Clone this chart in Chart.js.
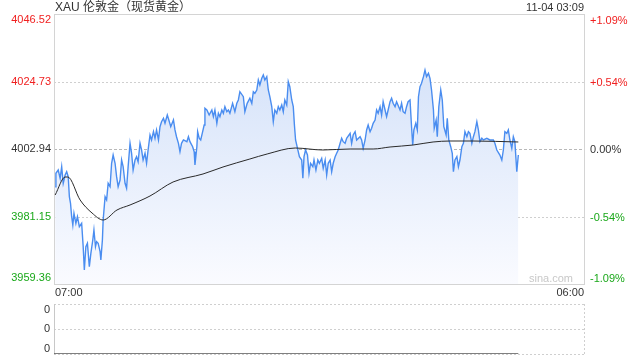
<!DOCTYPE html>
<html><head><meta charset="utf-8">
<script src="https://cdn.jsdelivr.net/npm/chart.js@4.4.1/dist/chart.umd.min.js"></script>
<style>
html,body{margin:0;padding:0;background:#fff;}
#wrap{position:relative;width:640px;height:360px;}
canvas{position:absolute;left:0;top:0;}
</style>
</head><body>
<div id="wrap"><canvas id="main" width="640" height="360"></canvas><canvas id="vol" width="640" height="360"></canvas></div>
<script>
const titleText = 'XAU 伦敦金（现货黄金）';
const stampText = '11-04 03:09';
const timeLabels = ['07:00', '06:00'];
const sessionMinutes = 1380;
const prevClose = 4002.94;
const priceTicks = [4046.52, 4024.73, 4002.94, 3981.15, 3959.36];
const pctTicks = ['+1.09%', '+0.54%', '0.00%', '-0.54%', '-1.09%'];
const volTickLabels = ['0', '0', '0'];

const minutes = [
3,5,11,16,20,24,29,33,37,40,
43,46,49,52,57,61,66,72,76,79,
83,87,92,96,101,104,108,111,115,120,
122,126,128,133,137,141,146,150,154,159,
163,167,172,176,180,185,189,193,198,202,
206,211,215,219,224,228,232,237,241,245,
250,254,259,263,267,272,276,280,285,289,
295,299,304,311,315,319,324,328,332,337,
346,350,354,361,365,367,372,374,378,382,
386,391,393,398,404,411,415,419,424,428,
432,437,441,445,450,454,458,465,471,476,
480,484,493,497,503,510,515,519,523,528,
532,536,541,545,549,554,558,562,567,571,
575,580,584,588,593,597,601,606,610,614,
619,623,626,629,633,639,645,648,651,655,
660,664,668,674,677,682,687,691,697,701,
706,710,714,719,723,727,732,736,740,745,
749,753,758,762,771,775,779,784,788,797,
801,805,810,814,818,823,827,831,836,840,
844,849,853,857,862,866,870,875,879,883,
888,892,901,905,909,914,918,922,927,931,
934,937,942,946,949,953,957,962,966,970,
975,979,983,988,990,995,998,1002,1007,1011,
1015,1021,1024,1028,1033,1037,1040,1044,1049,1053,
1057,1062,1066,1070,1075,1079,1083,1088,1092,1096,
1101,1105,1109,1114,1118,1127,1135,1144,1148,1153,
1161,1166,1170,1174,1179,1183,1187,1192,1196,1200,
1205,1209];

const prices = [
3990.77,3995.10,3996.16,3993.48,3997.23,3991.87,3994.55,3995.61,3994.00,3987.54,
3985.41,3981.09,3978.41,3982.18,3978.96,3981.09,3977.86,3978.96,3971.40,3963.88,
3971.40,3972.50,3964.95,3969.27,3973.57,3976.79,3971.40,3973.02,3972.50,3969.79,
3967.11,3973.57,3980.02,3987.54,3986.48,3991.87,3990.77,3998.33,4001.00,3998.33,
3994.00,3990.77,3992.93,3999.39,3997.23,3991.87,3990.26,3997.23,4004.78,4001.55,
3996.16,3999.39,4000.46,3998.84,4004.78,4002.62,3999.39,4001.55,3998.33,4002.62,
4007.46,4005.85,4008.53,4006.40,4009.08,4005.85,4010.14,4011.75,4012.85,4011.24,
4013.92,4012.30,4010.14,4012.30,4009.08,4006.91,4004.78,4002.07,4004.78,4005.85,
4005.30,4006.91,4005.30,4003.68,4002.07,3997.78,4003.68,4008.53,4006.40,4005.85,
4008.01,4010.69,4016.08,4015.53,4013.92,4015.53,4013.37,4015.53,4011.24,4014.47,
4013.37,4015.53,4014.47,4016.60,4014.98,4015.53,4014.47,4017.69,4014.98,4017.69,
4018.76,4021.44,4019.82,4014.98,4017.69,4019.31,4017.69,4021.44,4020.92,4021.99,
4025.22,4023.60,4025.76,4026.83,4025.22,4026.28,4021.99,4019.82,4016.60,4011.75,
4015.53,4014.47,4016.60,4015.53,4017.15,4014.98,4018.76,4017.15,4024.67,4023.05,
4018.76,4016.60,4010.69,4005.85,4003.68,4000.46,3999.39,3993.48,4000.46,4002.62,
4001.00,3995.10,3998.33,3997.23,3999.39,3996.16,3999.39,3998.33,3999.94,3996.71,
3999.39,3994.55,3998.33,3999.39,3995.61,3998.33,4000.46,4001.55,4002.62,4004.78,
4006.40,4005.30,4004.78,4006.40,4008.01,4004.78,4007.46,4008.53,4005.85,4006.91,
4005.85,4003.17,4005.85,4009.08,4010.69,4008.53,4009.62,4011.24,4012.30,4015.53,
4014.47,4016.60,4013.92,4018.21,4015.53,4013.37,4015.53,4018.21,4019.31,4017.69,
4016.60,4018.21,4015.53,4017.69,4014.98,4014.47,4016.60,4018.21,4018.76,4010.14,
4004.23,4009.08,4011.24,4009.08,4019.82,4023.05,4024.15,4026.28,4028.44,4026.28,
4027.38,4025.76,4021.99,4015.53,4009.62,4012.30,4006.91,4016.60,4021.99,4018.76,
4010.14,4007.46,4012.85,4005.85,4003.68,4001.55,3995.61,3999.39,4000.46,3997.23,
3999.39,4003.68,4004.78,4008.53,4006.91,4008.53,4008.01,4004.78,4006.91,4008.53,
4011.75,4009.08,4005.30,4006.40,4005.85,4006.40,4005.85,4005.85,4004.78,4002.62,
4001.00,3999.39,4002.62,4008.53,4008.01,4009.08,4005.85,4003.17,4006.91,4005.30,
3995.61,4001.00];

const avgMinutes = [3,29,36,68,99,128,164,198,250,310,388,440,510,555,628,700,771,831,875,935,987,1031,1091,1209];
const avgPrices = [3988.09,3993.90,3993.90,3986.48,3982.28,3980.02,3983.25,3984.87,3987.77,3992.29,3994.87,3997.13,3999.71,4001.33,4003.26,4002.62,4002.94,4002.94,4003.59,4004.23,4005.20,4005.52,4005.52,4005.20];

const volMinutes = [0, 1209];
const volumes = [0, 0];

const FONT = '11px "Liberation Sans", Arial, "Noto Sans CJK SC", sans-serif';
const TITLE_FONT = '12px "Liberation Sans", Arial, "Noto Sans CJK SC", sans-serif';
const RED = '#f02020', GREEN = '#1aa81a', DARK = '#333';
function colorFor(v){ return v > prevClose + 0.001 ? RED : (v < prevClose - 0.001 ? GREEN : DARK); }
function crisp(v){ return Math.round(v) + 0.5; }

const pricePts = minutes.slice(0, Math.min(minutes.length, prices.length)).map((m, i) => ({x: m, y: prices[i]}));
const avgPts = avgMinutes.map((m, i) => ({x: m, y: avgPrices[i]}));

const mainFrame = {
  id: 'mainFrame',
  beforeDatasetsDraw(chart){
    const {ctx, chartArea: a, scales: {y}} = chart;
    ctx.save();
    ctx.lineWidth = 1;
    priceTicks.forEach(v => {
      const py = y.getPixelForValue(v);
      if (py <= a.top + 1 || py >= a.bottom - 1) return;
      ctx.beginPath();
      ctx.strokeStyle = v === prevClose ? '#b8b8b8' : '#cfcfcf';
      ctx.setLineDash(v === prevClose ? [3, 2] : [2, 2]);
      ctx.moveTo(a.left, crisp(py)); ctx.lineTo(a.right, crisp(py));
      ctx.stroke();
    });
    ctx.setLineDash([]);
    ctx.strokeStyle = '#d4d4d4';
    ctx.strokeRect(crisp(a.left), crisp(a.top), Math.round(a.right - a.left), Math.round(a.bottom - a.top));
    ctx.restore();
  },
  afterDraw(chart){
    const {ctx, chartArea: a, scales: {y}} = chart;
    ctx.save();
    ctx.font = FONT;
    ctx.textBaseline = 'middle';
    priceTicks.forEach((v, i) => {
      let py = y.getPixelForValue(v);
      py = Math.max(a.top + 6, Math.min(a.bottom - 6, py));
      ctx.fillStyle = colorFor(v);
      ctx.textAlign = 'right';
      ctx.fillText(v.toFixed(2), a.left - 3, py);
      ctx.textAlign = 'left';
      ctx.fillText(pctTicks[i], a.right + 6, py + 1);
    });
    ctx.fillStyle = DARK;
    ctx.textAlign = 'left';
    ctx.font = TITLE_FONT;
    ctx.fillText(titleText, a.left + 1, 8);
    ctx.font = FONT;
    ctx.textAlign = 'right';
    ctx.fillText(stampText, a.right, 8);
    ctx.textAlign = 'left';
    ctx.fillText(timeLabels[0], a.left + 1, a.bottom + 9);
    ctx.textAlign = 'right';
    ctx.fillText(timeLabels[1], a.right, a.bottom + 9);
    ctx.fillStyle = '#c8c8c8';
    ctx.fillText('sina.com', a.right - 11, a.bottom - 5);
    ctx.restore();
  }
};

new Chart(document.getElementById('main'), {
  type: 'line',
  data: {
    datasets: [
      {
        data: avgPts,
        borderColor: '#2a2a2a',
        borderWidth: 1,
        pointRadius: 0,
        fill: false,
        cubicInterpolationMode: 'monotone',
        order: 0
      },
      {
        data: pricePts,
        borderColor: '#4a8df0',
        borderWidth: 1.4,
        pointRadius: 0,
        tension: 0,
        fill: 'start',
        backgroundColor: (c) => {
          const a = c.chart.chartArea;
          if (!a) return 'rgba(0,0,0,0)';
          const g = c.chart.ctx.createLinearGradient(0, a.top, 0, a.bottom);
          g.addColorStop(0, 'rgb(205,221,248)');
          g.addColorStop(1, 'rgb(250,251,255)');
          return g;
        },
        order: 1
      }
    ]
  },
  options: {
    responsive: false,
    animation: false,
    devicePixelRatio: 1,
    layout: {padding: {left: 54, top: 14, right: 56, bottom: 76}},
    plugins: {legend: {display: false}, tooltip: {enabled: false}},
    events: [],
    scales: {
      x: {type: 'linear', min: 0, max: sessionMinutes, display: false},
      y: {type: 'linear', min: priceTicks[priceTicks.length - 1], max: priceTicks[0], display: false}
    }
  },
  plugins: [mainFrame]
});

const volFrame = {
  id: 'volFrame',
  beforeDatasetsDraw(chart){
    const {ctx, chartArea: a, scales: {y}} = chart;
    ctx.save();
    ctx.lineWidth = 1;
    ctx.strokeStyle = '#cfcfcf';
    ctx.setLineDash([2, 2]);
    [1, 0.5, 0].forEach(v => {
      const py = crisp(y.getPixelForValue(v));
      ctx.beginPath(); ctx.moveTo(a.left, py); ctx.lineTo(a.right, py); ctx.stroke();
    });
    ctx.beginPath(); ctx.moveTo(crisp(a.right), a.top); ctx.lineTo(crisp(a.right), a.bottom); ctx.stroke();
    ctx.setLineDash([]);
    ctx.strokeStyle = '#c8c8c8';
    ctx.beginPath(); ctx.moveTo(crisp(a.left), a.top); ctx.lineTo(crisp(a.left), a.bottom + 1); ctx.stroke();
    ctx.restore();
  },
  afterDraw(chart){
    const {ctx, chartArea: a, scales: {y}} = chart;
    ctx.save();
    ctx.font = FONT;
    ctx.textBaseline = 'middle';
    ctx.textAlign = 'right';
    ctx.fillStyle = DARK;
    [1, 0.5, 0].forEach((v, i) => {
      let py = y.getPixelForValue(v);
      py = Math.max(a.top + 6, Math.min(a.bottom - 5, py));
      ctx.fillText(volTickLabels[i], a.left - 4, py);
    });
    ctx.restore();
  }
};

new Chart(document.getElementById('vol'), {
  type: 'line',
  data: {
    datasets: [{
      data: volMinutes.map((m, i) => ({x: m, y: volumes[i]})),
      borderColor: '#555',
      borderWidth: 1.5,
      pointRadius: 0,
      fill: false
    }]
  },
  options: {
    responsive: false,
    animation: false,
    devicePixelRatio: 1,
    layout: {padding: {left: 54, top: 304, right: 56, bottom: 6}},
    plugins: {legend: {display: false}, tooltip: {enabled: false}},
    events: [],
    scales: {
      x: {type: 'linear', min: 0, max: sessionMinutes, display: false},
      y: {type: 'linear', min: 0, max: 1, display: false}
    }
  },
  plugins: [volFrame]
});
</script>
</body></html>
